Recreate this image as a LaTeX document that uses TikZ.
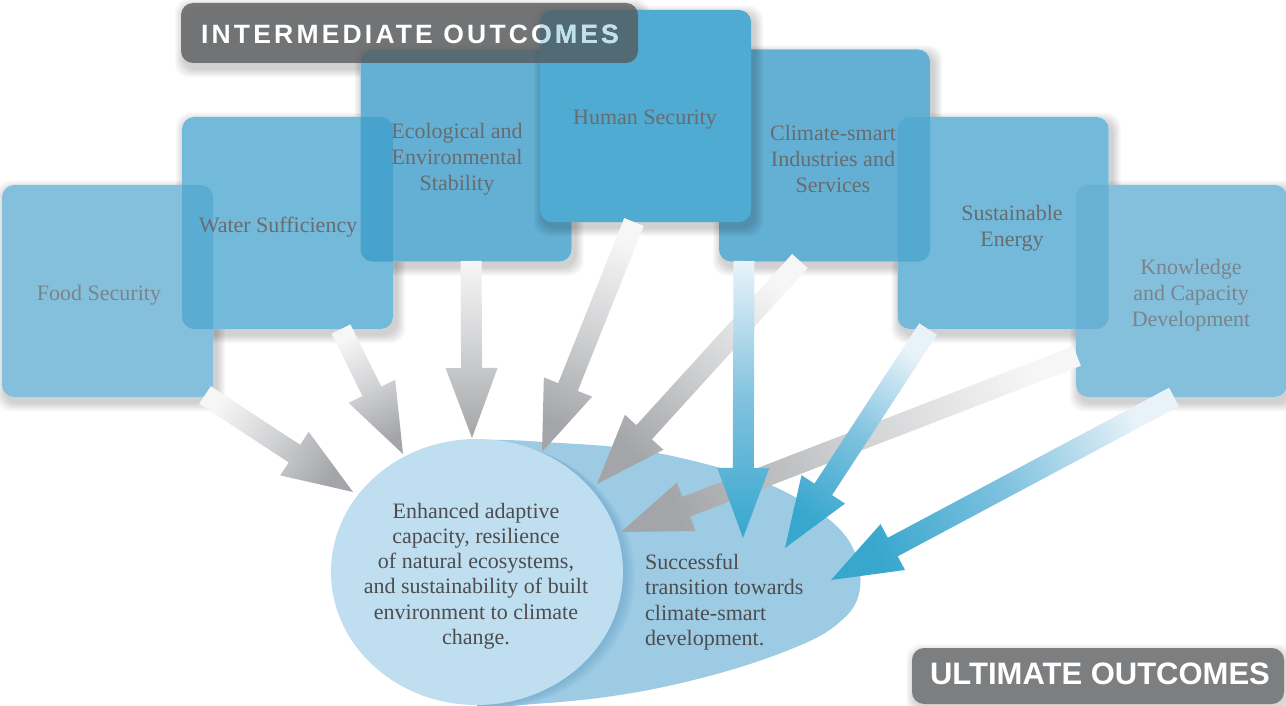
\documentclass[tikz,border=0pt]{standalone}
\usepackage{fontspec}
\setmainfont{Liberation Serif}
\newfontfamily\bannerfont{Liberation Sans}
\newfontfamily\bannerfontsp[LetterSpace=12]{Liberation Sans}
\usetikzlibrary{calc,shapes.geometric}

\definecolor{cFood}{RGB}{102,176,212}
\definecolor{cWater}{RGB}{81,168,208}
\definecolor{cEco}{RGB}{60,157,202}
\definecolor{cHuman}{RGB}{79,171,209}
\definecolor{cBan}{RGB}{84,86,88}
\definecolor{cBanU}{RGB}{125,126,128}
\definecolor{cBanTxtB}{RGB}{191,224,239}
\definecolor{cBlob}{RGB}{157,203,227}
\definecolor{cCircle}{RGB}{191,222,239}
\definecolor{cShadow}{RGB}{100,160,200}
\definecolor{cTxt}{RGB}{104,108,112}
\definecolor{cTxtL}{RGB}{122,132,140}
\definecolor{cBody}{RGB}{77,77,79}
\definecolor{gTail}{RGB}{246,246,246}
\definecolor{gMid}{RGB}{208,209,211}
\definecolor{gHead}{RGB}{164,165,168}
\definecolor{bTail}{RGB}{232,243,249}
\definecolor{bMid}{RGB}{128,194,223}
\definecolor{bHead}{RGB}{56,167,206}

\newcommand{\fatarrow}[2]{%
  \coordinate (#1b) at ($(#1e)!70pt!(#1s)$);
  \shade[#2] ($(#1s)!10.5pt!90:(#1e)$) -- ($(#1b)!10.5pt!90:(#1e)$)
    -- ($(#1b)!26pt!90:(#1e)$) -- (#1e) -- ($(#1b)!26pt!-90:(#1e)$)
    -- ($(#1b)!10.5pt!-90:(#1e)$) -- ($(#1s)!10.5pt!-90:(#1e)$) -- cycle;
}
\newcommand{\softshadow}[4]{%
  \foreach \k in {1,...,6}{
    \fill[black, opacity=0.03, rounded corners=14pt]
      (#1-#3+3-1.5*\k, #2-#4+5-1.5*\k) rectangle (#1+#3+3+1.5*\k, #2+#4+5+1.5*\k);
  }
}
\def\blobpath{plot[smooth cycle, tension=0.6] coordinates {(478,441) (560,443) (640,450) (717,467) (773,486) (822,514) (849,541) (860,572) (857,600) (842,620) (812,640) (750,664) (677,684) (606,697) (534,704) (480,706) (420,690) (400,560) (430,460)}}

\begin{document}
\begin{tikzpicture}[x=1pt,y=-1pt,
  box/.style={rectangle, rounded corners=12pt, minimum width=211pt, minimum height=212pt, inner sep=0pt, fill opacity=0.8},
  boxtext/.style={font=\fontsize{22}{26}\selectfont, align=center, inner sep=0pt, text=cTxt},
  bodytext/.style={font=\fontsize{22}{25.2}\selectfont, inner sep=0pt, text=cBody},
  banner/.style={rectangle, rounded corners=12pt, inner sep=0pt},
  bantext/.style={font={\bannerfontsp\bfseries\fontsize{26.5}{30}\selectfont}, inner sep=0pt},
  grayarrow/.style={top color=gTail, bottom color=gHead, middle color=gMid},
  bluearrow/.style={top color=bTail, bottom color=bHead, middle color=bMid},
]
\useasboundingbox (0,0) rectangle (1286,706);
\fill[white] (0,0) rectangle (1286,706);

% soft shadows
\foreach \cx/\cy/\hw/\hh in {107.5/291/105.5/106, 287.5/223/105.5/106, 466/155.5/105.5/106, 824.5/155.5/105.5/106, 1003/223/105.5/106, 1181.5/291/105.5/106, 409.5/33/228.5/30}{
  \softshadow{\cx}{\cy}{\hw}{\hh}
}
% white under the translucent boxes
\foreach \cx/\cy/\hw/\hh in {107.5/291/105.5/106, 287.5/223/105.5/106, 466/155.5/105.5/106, 824.5/155.5/105.5/106, 1003/223/105.5/106, 1181.5/291/105.5/106}{
  \fill[white, rounded corners=12pt] (\cx-\hw, \cy-\hh) rectangle (\cx+\hw, \cy+\hh);
}

% boxes
\node[box, fill=cFood] (food) at (107.5,291) {};
\node[box, fill=cWater] (water) at (287.5,223) {};
\node[box, fill=cEco] (eco) at (466,155.5) {};
\node[box, fill=cEco] (climate) at (824.5,155.5) {};
\node[box, fill=cWater] (energy) at (1003,223) {};
\node[box, fill=cFood] (know) at (1181.5,291) {};
\softshadow{645.5}{116}{105.5}{106}
\node[box, fill=cHuman, fill opacity=1] (human) at (645.5,116) {};

% intermediate banner
\node[banner, fill=cBan, fill opacity=0.76, minimum width=457pt, minimum height=60pt] (inter) at (409.5,33) {};
\node[bantext, text=white] (intertxt) at (410,34) {INTERMEDIATE OUTCOMES};
\begin{scope}
  \clip[rounded corners=12pt] (540,10) rectangle (751,222);
  \node[bantext, text=cBanTxtB] at (410,34) {INTERMEDIATE OUTCOMES};
\end{scope}

% box texts
\node[boxtext, text=cTxtL] (foodtxt) at (99,295) {Food Security};
\node[boxtext] (watertxt) at (278,227) {Water Sufficiency};
\node[boxtext] (ecotxt) at (457,159) {Ecological and\\Environmental\\Stability};
\node[boxtext] (humantxt) at (645,120) {Human Security};
\node[boxtext] (climatetxt) at (833,159) {Climate-smart\\Industries and\\Services};
\node[boxtext] (energytxt) at (1012,228) {Sustainable\\Energy};
\node[boxtext, text=cTxtL] (knowtxt) at (1191,295) {Knowledge\\and Capacity\\Development};

% ultimate outcomes
\begin{scope}
  \clip (477,0) rectangle (1286,706);
  \fill[cBlob] \blobpath;
  \clip \blobpath;
  \foreach \k in {1,...,6}{
    \fill[cShadow, opacity=0.10] (477+2*\k, 572+0.7*\k) ellipse [x radius=146, y radius=133];
  }
\end{scope}
\node[ellipse, fill=cCircle, minimum width=292pt, minimum height=266pt, inner sep=0pt] (adapt) at (477,572) {};
\node[bodytext, align=center] (adapttxt) at (476,576) {Enhanced adaptive\\capacity, resilience\\of natural ecosystems,\\and sustainability of built\\environment to climate\\change.};
\node[bodytext, align=left, anchor=west] (transtxt) at (645,602) {Successful\\transition towards\\climate-smart\\development.};

% arrow end points
\coordinate (a1s) at (205,395);  \coordinate (a1e) at (353,492);
\coordinate (a2s) at (341,329);  \coordinate (a2e) at (403,454);
\coordinate (a3s) at (471,261);  \coordinate (a3e) at (472,438);
\coordinate (a4s) at (634,222);  \coordinate (a4e) at (542,452);
\coordinate (a5s) at (800,261);  \coordinate (a5e) at (597,484);
\coordinate (a6s) at (744,261);  \coordinate (a6e) at (743,538);
\coordinate (a7s) at (928,329);  \coordinate (a7e) at (785,548);
\coordinate (a8s) at (1077,356); \coordinate (a8e) at (621,532);
\coordinate (a9s) at (1174,397); \coordinate (a9e) at (831,580);

\fatarrow{a1}{grayarrow, shading angle=56.8}
\fatarrow{a2}{grayarrow, shading angle=26.4}
\fatarrow{a3}{grayarrow, shading angle=0.3}
\fatarrow{a4}{grayarrow, shading angle=-21.8}
\fatarrow{a5}{grayarrow, shading angle=-42.4}
\fatarrow{a8}{grayarrow, shading angle=-69}
\fatarrow{a6}{bluearrow, shading angle=-0.2}
\fatarrow{a7}{bluearrow, shading angle=-33.1}
\fatarrow{a9}{bluearrow, shading angle=-61.9}

% ultimate banner
\foreach \k in {1,...,5}{
  \fill[black, opacity=0.03, rounded corners=14pt] (912+2-1.5*\k, 648+4-1.5*\k) rectangle (1284+2+1.5*\k, 704+4+1.5*\k);
}
\node[banner, fill=cBanU, minimum width=372pt, minimum height=56pt] (ult) at (1098,676) {};
\node[font={\bannerfont\bfseries\fontsize{31}{34}\selectfont}, text=white, inner sep=0pt] (ulttxt) at (1100,674) {ULTIMATE OUTCOMES};
\end{tikzpicture}
\end{document}
